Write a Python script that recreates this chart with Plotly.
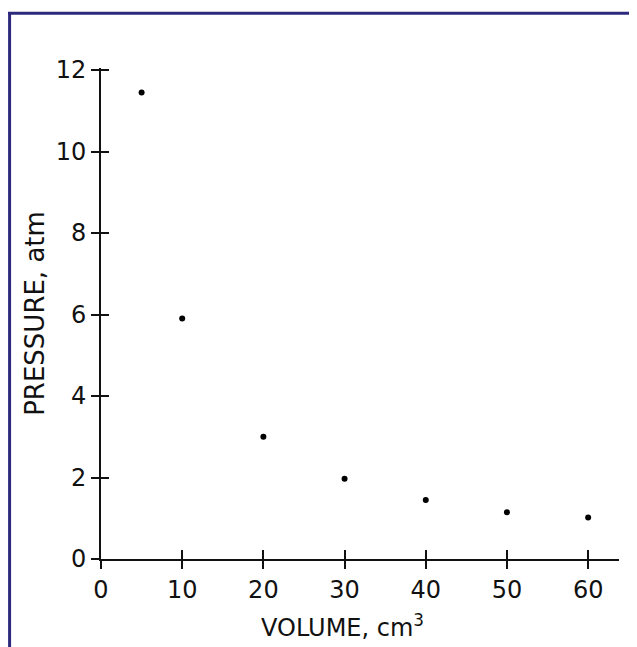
import plotly.graph_objects as go

volume = [5, 10, 20, 30, 40, 50, 60]
pressure = [11.45, 5.9, 3.0, 1.97, 1.45, 1.15, 1.02]
x_ticks = [0, 10, 20, 30, 40, 50, 60]
y_ticks = [0, 2, 4, 6, 8, 10, 12]
x_title = "VOLUME, cm<sup>3</sup>"
y_title = "PRESSURE, atm"

X_RANGE = [0, 63.8]
Y_RANGE = [0, 12.05]

# page body has an 8px margin; figure coordinates = screen - 8
OFF = 8
W, H = 637 - OFF, 647 - OFF
y_per_unit = 40.78
ph = y_per_unit * (Y_RANGE[1] - Y_RANGE[0])
B = 87.7
T = H - B - ph
L, R = 100.5 - OFF, 18
pw = W - L - R

def px(xs):
    return (xs - OFF - L) / pw

def py(ys):
    return (H - B - (ys - OFF)) / ph

font = dict(family="DejaVu Sans", size=24, color="#111111")

fig = go.Figure()
fig.add_trace(go.Scatter(x=volume, y=pressure, mode="markers",
                         marker=dict(color="black", size=6, symbol="circle"),
                         showlegend=False, hoverinfo="skip"))
fig.add_trace(go.Scatter(x=volume, y=pressure, mode="markers", xaxis="x2", yaxis="y2",
                         marker=dict(color="rgba(0,0,0,0)", size=1),
                         showlegend=False, hoverinfo="skip"))

axis_common = dict(showgrid=False, zeroline=False, ticks="outside", ticklen=8,
                   tickwidth=1.8, tickcolor="#111111", linecolor="#111111", linewidth=2,
                   tickfont=font)

fig.update_layout(
    width=W, height=H, autosize=False,
    margin=dict(l=L, r=R, t=T, b=B),
    paper_bgcolor="white", plot_bgcolor="white",
    xaxis=dict(range=X_RANGE, tickvals=x_ticks, showline=True, ticklabelstandoff=0,
               **axis_common),
    yaxis=dict(range=Y_RANGE, tickvals=y_ticks, showline=True,
               title=dict(text=y_title, font=dict(family="DejaVu Sans", size=26, color="#111111"), standoff=4),
               **axis_common),
    xaxis2=dict(range=X_RANGE, tickvals=x_ticks, overlaying="x", anchor="y2", side="bottom",
                showgrid=False, zeroline=False, showline=False, showticklabels=False,
                ticks="inside", ticklen=9, tickwidth=1.8, tickcolor="#111111"),
    yaxis2=dict(range=Y_RANGE, tickvals=y_ticks, overlaying="y", anchor="x2", side="left",
                showgrid=False, zeroline=False, showline=False, showticklabels=False,
                ticks="inside", ticklen=8, tickwidth=1.8, tickcolor="#111111"),
    annotations=[
        dict(text=x_title, xref="paper", yref="paper", x=px(342), y=py(626),
             xanchor="center", yanchor="middle", showarrow=False, font=font),
    ],
    shapes=[
        dict(type="line", xref="paper", yref="paper", x0=px(7), x1=px(650), y0=py(13), y1=py(13),
             line=dict(color="#2d2a7e", width=3)),
        dict(type="line", xref="paper", yref="paper", x0=px(9), x1=px(9), y0=py(12), y1=py(660),
             line=dict(color="#2d2a7e", width=3)),
    ],
)

fig.write_html("out.html")
